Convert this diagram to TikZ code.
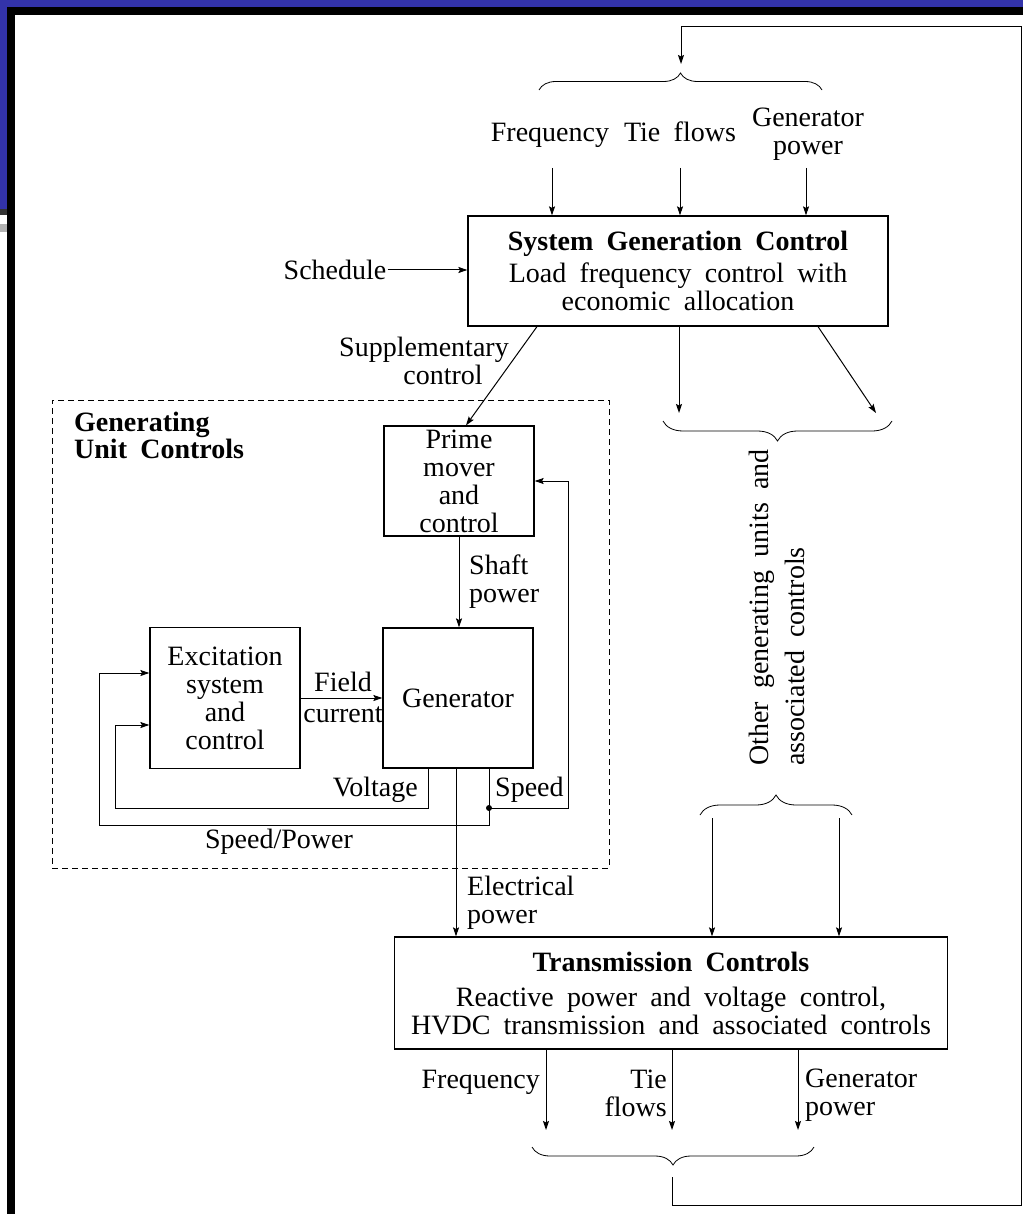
\documentclass[tikz,border=0pt]{standalone}
\usepackage{fontspec}
\setmainfont{Liberation Serif}[WordSpace=1.9]
\usetikzlibrary{arrows.meta,decorations.pathreplacing}
\definecolor{slideblue}{RGB}{51,51,170}

\begin{document}
\begin{tikzpicture}[x=1pt, y=-1pt,
    font=\fontsize{28}{28}\selectfont,
    >={Stealth[length=9pt,width=6pt,inset=1.5pt]},
    box/.style ={draw, line width=1.2pt, align=center, inner sep=2pt},
    grp/.style ={draw, dashed, dash pattern=on 6pt off 4pt, line width=0.9pt},
    lbl/.style ={align=center, inner sep=1pt},
    wire/.style={line width=1pt},
    arr/.style ={wire, ->},
    brc/.style ={draw, line width=0.8pt, decorate, decoration={brace, amplitude=#1}},
  ]
  % slide frame
  \useasboundingbox (0,0) rectangle (1023,1214);
  \fill[white] (0,0) rectangle (1023,1214);
  \fill[slideblue] (0,0) rectangle (1023,7);
  \fill[slideblue] (0,0) rectangle (7,209);
  \fill[black] (7,7) rectangle (1023,15);
  \fill[black] (7,7) rectangle (15,1214);
  \fill[black!80] (0,209) rectangle (7,215);
  \fill[gray!60] (0,224) rectangle (7,232);

  % main blocks
  \node[box, minimum width=420pt, minimum height=110pt] (sgc) at (678,271)
    {\textbf{System Generation Control}\\[4pt] Load frequency control with\\ economic allocation};
  \node[box, minimum width=553pt, minimum height=112pt] (tc) at (671,993)
    {\textbf{Transmission Controls}\\[7pt] Reactive power and voltage control,\\ HVDC transmission and associated controls};
  \node[grp, minimum width=557pt, minimum height=468pt] (guc) at (330.5,634) {};
  \node[lbl, align=left, anchor=west, font=\fontsize{28}{27}\selectfont\bfseries] (guclbl) at (73,435) {Generating\\ Unit Controls};
  \node[box, minimum width=150pt, minimum height=110pt] (pm) at (459,481) {Prime\\ mover\\ and\\ control};
  \node[box, minimum width=150pt, minimum height=140pt] (gen) at (458,698) {Generator};
  \node[box, minimum width=150pt, minimum height=141pt] (exc) at (225,698) {Excitation\\ system\\ and\\ control};

  % inputs to system generation control
  \coordinate (fbIn) at (681,64);
  \draw[brc=17pt] (539,90) -- (822,90);
  \node[lbl, anchor=base] (fq) at (550,142) {Frequency};
  \node[lbl, anchor=base] (tf) at (680,142) {Tie flows};
  \node[lbl] (gp) at (808,134) {Generator\\ power};
  \foreach \n/\x in {inF/552, inT/680, inG/806}{
    \coordinate (\n) at (\x,168);
    \draw[arr] (\n) -- (\n |- sgc.north);
  }
  \node[lbl] (sched) at (335,270) {Schedule};
  \draw[arr] (sched.east) -- (sched.east -| sgc.west);

  % supplementary control and other units
  \draw[arr] ([xshift=-141pt]sgc.south) -- ([xshift=7pt]pm.north);
  \node[lbl, align=right] (suplbl) at (424,361) {Supplementary\\ control\hspace*{26pt}};
  \coordinate (oA) at (679,413);
  \coordinate (oB) at (876,413);
  \draw[arr] (oA |- sgc.south) -- (oA);
  \draw[arr] ([xshift=140pt]sgc.south) -- (oB);
  \draw[brc=20pt] (892,421) -- (663,421);
  \node[lbl, rotate=90, anchor=west, align=left] (other) at (777,767)
    {Other generating units and\\[8pt] associated controls};
  \draw[brc=20pt] (700,815) -- (852,815);
  \coordinate (lA) at (712,818);
  \coordinate (lB) at (839,818);
  \draw[arr] (lA) -- (lA |- tc.north);
  \draw[arr] (lB) -- (lB |- tc.north);

  % generating unit loops
  \draw[arr] (pm.south) -- (pm.south |- gen.north);
  \node[lbl, align=left, anchor=west] (splbl) at (468,582) {Shaft\\ power};
  \draw[arr] (exc.east) -- (exc.east -| gen.west);
  \node[lbl] (fclbl) at (343,697) {Field\\[3pt] current};
  \coordinate (vL) at (115,808);
  \coordinate (sL) at (99,825);
  \coordinate (dot) at (489,808);
  \coordinate (spR) at (568,808);
  \draw[arr] ([xshift=-30pt]gen.south) |- (vL) |- ([yshift=-27pt]exc.west);
  \draw[wire] ([xshift=31pt]gen.south) -- (dot);
  \draw[arr] (dot) -- (spR) |- (pm.east);
  \draw[arr] (dot) |- (sL) |- ([yshift=25pt]exc.west);
  \fill (dot) circle (3pt);
  \node[lbl, anchor=east] (vlbl) at (419,790) {Voltage};
  \node[lbl, anchor=west] (slbl) at (494,790) {Speed};
  \node[lbl] (splbl2) at (279,842) {Speed/Power};

  % electrical power
  \draw[arr] ([xshift=-2pt]gen.south) -- ([xshift=-2pt]gen.south |- tc.north);
  \node[lbl, align=left, anchor=west] (eplbl) at (466,903) {Electrical\\ power};

  % outputs of transmission controls
  \foreach \n/\x in {oF/546, oT/672, oG/798}{
    \coordinate (\n) at (\x,1130);
    \draw[arr] (\n |- tc.south) -- (\n);
  }
  \node[lbl, anchor=east] (fq2) at (541,1082) {Frequency};
  \node[lbl, align=right, anchor=east] (tf2) at (668,1093) {Tie\\ flows};
  \node[lbl, align=left, anchor=west] (gp2) at (804,1095) {Generator\\ power};
  \draw[brc=18pt] (814,1147) -- (532,1147);

  % feedback to the top
  \coordinate (fb0) at (672,1177);
  \coordinate (fbBR) at (1021,1205);
  \coordinate (fbTR) at (1021,27);
  \draw[arr] (fb0) |- (fbBR) -- (fbTR) -| (fbIn);
\end{tikzpicture}
\end{document}
